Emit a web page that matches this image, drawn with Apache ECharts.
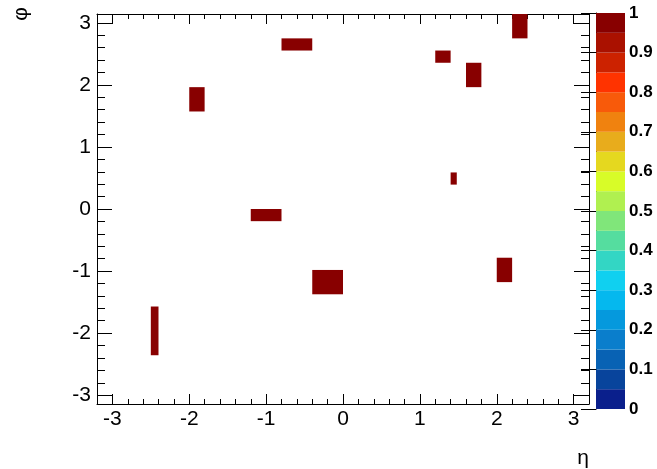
<!DOCTYPE html>
<html>
<head>
<meta charset="utf-8">
<script src="https://cdn.jsdelivr.net/npm/echarts@6.0.0/dist/echarts.min.js"></script>
<style>
html,body{margin:0;padding:0;background:#fff;}
#chart{width:657px;height:469px;}
</style>
</head>
<body>
<div id="chart"></div>
<script>
// ---- data: occupied cells of the eta-phi histogram ----
const etaLo = [-0.8, -2.0, 2.2, 1.2, 1.6, 1.4, -1.2, -0.4, 2.0, -2.5];
const etaHi = [-0.4, -1.8, 2.4, 1.4, 1.8, 1.48, -0.8, 0.0, 2.2, -2.4];
const phiLo = [2.553, 1.571, 2.749, 2.356, 1.963, 0.393, -0.196, -1.374, -1.178, -2.356];
const phiHi = [2.749, 1.963, 3.1416, 2.553, 2.356, 0.589, 0.0, -0.982, -0.785, -1.571];
const content = [1, 1, 1, 1, 1, 1, 1, 1, 1, 1];

const etaRange = [-3.2, 3.2];
const phiRange = [-Math.PI, Math.PI];
const zRange = [0, 1];
const nLevels = 20;

// ---- style ----
const paletteColors = ['#0a1f8c','#08449c','#0862b4','#0a7ecc','#0599dd','#05b8ee','#10d0f0','#33d6c4','#55dd9f','#80e67a',
                       '#b0f050','#d8fc28','#e5d81f','#e8ac1c','#f0820f','#f85a0a','#ff3300','#cc2200','#aa1100','#880000'];
const FONT = 'Liberation Sans, Arial, Helvetica, sans-serif';

const cellData = etaLo.map((e, i) => [e, etaHi[i], phiLo[i], phiHi[i], content[i]]);
const step = (zRange[1] - zRange[0]) / nLevels;
const barData = [];
const pieces = [];
for (let i = 0; i < nLevels; i++) {
  const lo = zRange[0] + i * step, hi = zRange[0] + (i + 1) * step;
  barData.push([0, 1, lo, hi, (lo + hi) / 2]);
  const p = { gte: lo, color: paletteColors[i] };
  if (i === nLevels - 1) p.lte = hi; else p.lt = hi;
  pieces.push(p);
}

function renderRect(params, api) {
  const p0 = api.coord([api.value(0), api.value(3)]);
  const p1 = api.coord([api.value(1), api.value(2)]);
  return {
    type: 'rect',
    shape: { x: p0[0], y: p0[1], width: p1[0] - p0[0], height: p1[1] - p0[1] },
    style: { fill: api.visual('color'), stroke: null }
  };
}

const intLabel = v => (Math.abs(v - Math.round(v)) < 1e-9 ? String(Math.round(v)) : '');
const black = { color: '#000', width: 1 };

function xAx(pos, labels) {
  return {
    gridIndex: 0, type: 'value', min: etaRange[0], max: etaRange[1], position: pos, splitNumber: 6,
    axisLine: { show: true, onZero: false, lineStyle: black },
    axisTick: { show: true, inside: true, length: 10, lineStyle: black },
    minorTick: { show: true, splitNumber: 5, length: 5, lineStyle: black },
    splitLine: { show: false },
    axisLabel: { show: labels, inside: false, margin: 5, color: '#000', fontSize: 21, fontFamily: FONT, formatter: intLabel }
  };
}
function yAx(pos, labels) {
  return {
    gridIndex: 0, type: 'value', min: phiRange[0], max: phiRange[1], position: pos, splitNumber: 6,
    axisLine: { show: true, onZero: false, lineStyle: black },
    axisTick: { show: true, inside: true, length: 15, lineStyle: black },
    minorTick: { show: true, splitNumber: 5, length: 8, lineStyle: black },
    splitLine: { show: false },
    axisLabel: { show: labels, inside: false, margin: 6, color: '#000', fontSize: 21, fontFamily: FONT, formatter: intLabel }
  };
}

const chart = echarts.init(document.getElementById('chart'), null, { renderer: 'canvas' });
chart.setOption({
  animation: false,
  backgroundColor: '#fff',
  grid: [
    { left: 97, top: 14, width: 492, height: 390, containLabel: false },
    { left: 596, top: 13, width: 29, height: 396, containLabel: false }
  ],
  xAxis: [
    xAx('bottom', true),
    xAx('top', false),
    { gridIndex: 1, type: 'value', min: 0, max: 1, show: false }
  ],
  yAxis: [
    yAx('left', true),
    yAx('right', false),
    {
      gridIndex: 1, type: 'value', min: zRange[0], max: zRange[1], interval: 0.1, position: 'right',
      axisLine: { show: true, lineStyle: black },
      axisTick: { show: true, inside: true, length: 15, lineStyle: black },
      splitLine: { show: false },
      axisLabel: { margin: 4, color: '#000', fontSize: 17, fontWeight: 'bold', fontFamily: FONT }
    }
  ],
  visualMap: {
    type: 'piecewise', show: false, dimension: 4, seriesIndex: [0, 1], pieces: pieces
  },
  series: [
    {
      type: 'custom', xAxisIndex: 0, yAxisIndex: 0, renderItem: renderRect,
      encode: { x: [0, 1], y: [2, 3] }, data: cellData, clip: true, z: 1
    },
    {
      type: 'custom', xAxisIndex: 2, yAxisIndex: 2, renderItem: renderRect,
      encode: { x: [0, 1], y: [2, 3] }, data: barData, z: 1
    }
  ],
  graphic: [
    { type: 'text', x: 589, y: 458, style: { text: 'η', fill: '#000', font: '21px ' + FONT, align: 'right', verticalAlign: 'middle', textAlign: 'right', textVerticalAlign: 'middle' } },
    { type: 'text', x: 21, y: 14, rotation: Math.PI / 2, style: { text: 'φ', fill: '#000', font: '21px ' + FONT, align: 'center', verticalAlign: 'middle', textAlign: 'center', textVerticalAlign: 'middle' } }
  ]
});
</script>
</body>
</html>
